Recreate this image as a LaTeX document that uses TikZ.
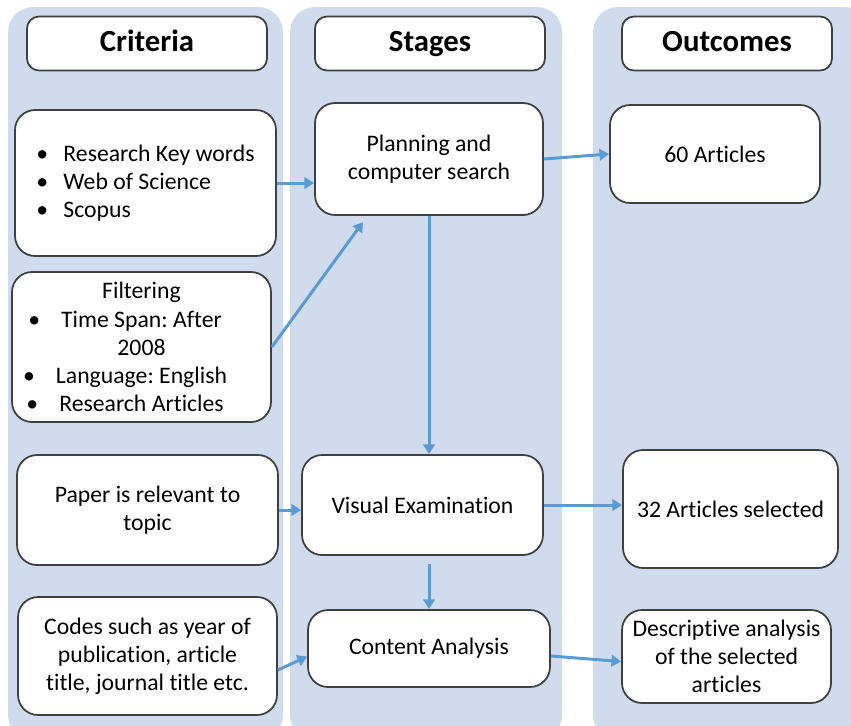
\documentclass[tikz,border=0pt]{standalone}
\usepackage{fontspec}
\setmainfont{Carlito}[Ligatures=NoCommon]
\usepackage{tikz}
\usetikzlibrary{arrows.meta, positioning, calc}
\definecolor{colfill}{RGB}{208,220,238}
\definecolor{boxline}{RGB}{64,64,64}
\definecolor{arrowblue}{RGB}{91,155,213}
\frenchspacing
\newcommand\txtfont{\fontsize{13.5}{16}\selectfont}
\newcommand\hdrfont{\fontsize{17.5}{21}\selectfont\bfseries}
\newcommand\bul{\llap{\textbullet\hspace{0.42cm}}}
\tikzset{
    colbg/.style={fill=colfill, rounded corners=0.5cm},
    hdrbox/.style={rectangle, rounded corners=0.24cm, draw=boxline, line width=1pt,
                   fill=white, font=\hdrfont, minimum height=1.08cm,
                   text height=12.5pt, text depth=3.5pt},
    stepbox/.style={rectangle, rounded corners=0.4cm, draw=boxline, line width=1pt,
                    fill=white, align=center, font=\txtfont, inner sep=2pt},
    arrow/.style={-{Triangle[length=5.5pt, width=6.5pt]}, line width=1.7pt, draw=arrowblue},
}
\begin{document}
\begin{tikzpicture}[x=0.02cm, y=-0.02cm]
    \path[use as bounding box, clip] (0,0) rectangle (851,725);
    \fill[colbg] (8,7) rectangle (283,740);
    \fill[colbg] (290,7) rectangle (562,740);
    \fill[colbg] (593,7) rectangle (870,740);

    \node[hdrbox, minimum width=4.8cm] (hcrit) at (147,43.5) {Criteria};
    \node[hdrbox, minimum width=4.6cm] (hstage) at (430,43.5) {Stages};
    \node[hdrbox, minimum width=4.2cm] (hout) at (727,43.5) {Outcomes};

    \node[stepbox, align=left, minimum width=5.22cm, minimum height=2.92cm] (crit1) at (145.5,183)
        {\makebox[0.54cm][l]{\textbullet}Research Key words\\
         \makebox[0.54cm][l]{\textbullet}Web of Science\\
         \makebox[0.54cm][l]{\textbullet}Scopus};
    \node[stepbox, minimum width=5.18cm, minimum height=3cm] (crit2) at (141.5,347)
        {Filtering\\ \bul Time Span: After\\ 2008\\ \bul Language: English\\ \bul Research Articles};
    \node[stepbox, minimum width=5.22cm, minimum height=2.2cm] (crit3) at (147.5,510)
        {Paper is relevant to\\ topic};
    \node[stepbox, minimum width=5.18cm, minimum height=2.36cm] (crit4) at (147.5,656)
        {Codes such as year of\\ publication, article\\ title, journal title etc.};

    \node[stepbox, minimum width=4.56cm, minimum height=2.24cm] (plan) at (429,159)
        {Planning and\\ computer search};
    \node[stepbox, minimum width=4.82cm, minimum height=2cm] (visual) at (422.5,505)
        {Visual Examination};
    \node[stepbox, minimum width=4.84cm, minimum height=1.54cm] (content) at (429,648.5)
        {Content Analysis};

    \node[stepbox, minimum width=4.2cm, minimum height=1.96cm] (out1) at (715,154) {60 Articles};
    \node[stepbox, minimum width=4.3cm, minimum height=2.36cm] (out2) at (730.5,509)
        {32 Articles selected};
    \node[stepbox, minimum width=4.18cm, minimum height=1.86cm] (out3) at (726.5,656.5)
        {Descriptive analysis\\ of the selected\\ articles};

    \coordinate (planin) at (363,222);
    \draw[arrow] (crit1.east) -- (crit1.east -| plan.west);
    \draw[arrow] (crit2.east) -- (planin);
    \draw[arrow] (plan.east) -- (out1.west);
    \draw[arrow] (plan.south) -- (plan.south |- visual.north);
    \draw[arrow] (crit3.east) -- (crit3.east -| visual.west);
    \draw[arrow] (visual.east) -- (visual.east -| out2.west);
    \draw[arrow] ([yshift=-0.16cm]visual.south -| content.north) -- (content.north);
    \draw[arrow] ([yshift=-0.28cm]crit4.east) -- ([yshift=-0.16cm]content.west);
    \draw[arrow] ([yshift=-0.15cm]content.east) -- ([yshift=-0.1cm]out3.west);
\end{tikzpicture}
\end{document}
